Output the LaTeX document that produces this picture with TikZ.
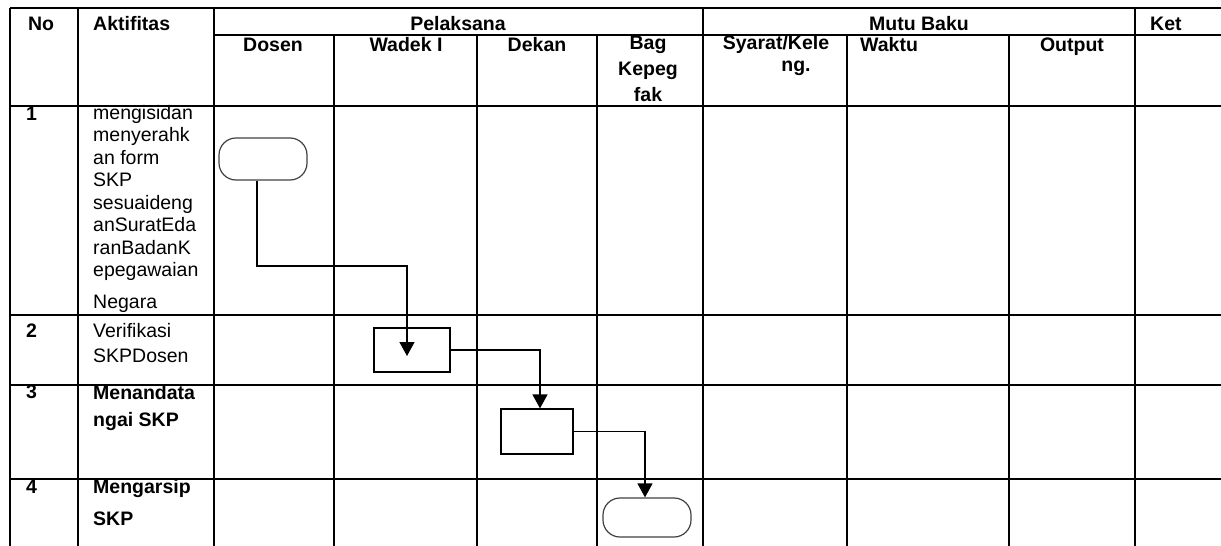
\documentclass[tikz,border=0pt]{standalone}
\usepackage{fontspec}
\setmainfont{Liberation Sans}
\usetikzlibrary{arrows.meta}
\definecolor{garisAbu}{HTML}{404040}

\begin{document}
\begin{tikzpicture}[
    x=1pt, y=-1pt,
    font=\fontsize{19.5}{22.5}\selectfont,
    garis/.style={line width=1.6pt},
    judul/.style={font=\fontsize{19.5}{26}\selectfont\bfseries, anchor=base, inner sep=0pt},
    isi/.style={anchor=base west, align=left, inner sep=0pt},
    terminal/.style={draw=garisAbu, line width=1.2pt, rounded corners=17pt,
                     minimum width=88pt, inner sep=0pt},
    proses/.style={draw, line width=1.2pt, inner sep=0pt},
    alur/.style={line width=1.3pt, -{Triangle[width=15pt,length=14pt]}}
  ]
  \useasboundingbox (0,0) rectangle (1221,546);
  % tabel
  \foreach \y in {8,106,315,385,479}
    \draw[garis] (10,\y) -- (1221,\y);
  \draw[garis] (214,35) -- (1221,35);
  \foreach \x in {10,78,214,703,1135}
    \draw[garis] (\x,8) -- (\x,546);
  \foreach \x in {334,477,597,847,1009}
    \draw[garis] (\x,35) -- (\x,546);

  % kepala tabel
  \node[judul] (no) at (41,30) {No};
  \node[judul, anchor=base west] (aktifitas) at (93,30) {Aktifitas};
  \node[judul] (pelaksana) at (458,30) {Pelaksana};
  \node[judul] (mutu) at (919,30) {Mutu Baku};
  \node[judul, anchor=base west] (ket) at (1150,30) {Ket};
  \node[judul] (dosen) at (273,51) {Dosen};
  \node[judul] (wadek) at (406,51) {Wadek I};
  \node[judul] (dekan) at (537,51) {Dekan};
  \node[judul, align=center] (bag) at (648,101) {Bag\\Kepeg\\fak};
  \node[judul, align=center] (syarat) at (776,71) {Syarat/Kele\\[-4pt]\hspace*{40pt}ng.};
  \node[judul, anchor=base west] (waktu) at (860,51) {Waktu};
  \node[judul] (output) at (1072,51) {Output};

  % nomor dan aktifitas
  \node[judul, anchor=base west] (n1) at (26,120) {1};
  \node[judul, anchor=base west] (n2) at (26,337) {2};
  \node[judul, anchor=base west] (n3) at (26,398) {3};
  \node[judul, anchor=base west] (n4) at (26,493) {4};
  \node[isi] (akt1) at (93,308) {mengisidan\\menyerahk\\an form\\SKP\\sesuaideng\\anSuratEda\\ranBadanK\\epegawaian\\[9pt]Negara};
  \node[isi] (akt2) at (93,362) {Verifikasi\\[2.5pt]SKPDosen};
  \node[isi, font=\fontsize{19.5}{22.5}\selectfont\bfseries] (akt3) at (93,426) {Menandata\\[4pt]ngai SKP};
  \node[isi, font=\fontsize{19.5}{22.5}\selectfont\bfseries] (akt4) at (93,525) {Mengarsip\\[9pt]SKP};

  % alur
  \node[terminal, minimum height=42pt] (mulai) at (263,159) {};
  \node[proses, minimum width=76pt, minimum height=44pt] (verif) at (412,350) {};
  \node[proses, minimum width=72pt, minimum height=45pt] (ttd) at (537,431.5) {};
  \node[terminal, minimum height=39pt] (arsip) at (647,517.5) {};
  \coordinate (belok) at (407,266);
  \coordinate (ujung) at (407,356);
  \draw[alur] ([xshift=-6pt]mulai.south) |- (belok) -- (ujung);
  \draw[alur] (verif.east) -| ([xshift=3pt]ttd.north);
  \draw[alur] (ttd.east) -| ([xshift=-2pt]arsip.north);
\end{tikzpicture}
\end{document}
